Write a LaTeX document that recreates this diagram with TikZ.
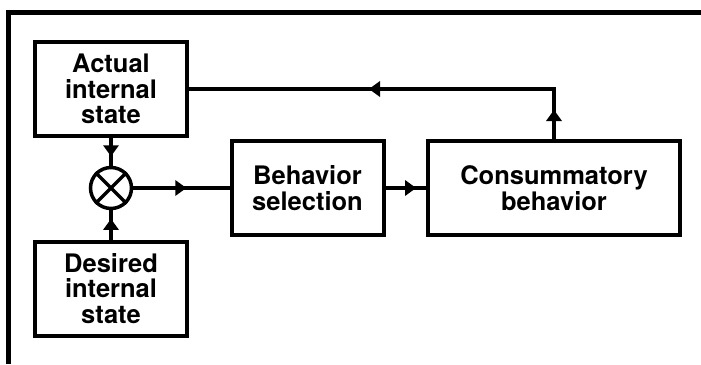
\documentclass[tikz,border=0pt]{standalone}
\usepackage{fontspec}
\setmainfont{TeX Gyre Heros}
\usetikzlibrary{decorations.markings}

\newcommand{\headshape}{\fill (3pt,0pt) -- (-8pt,8pt) -- (-8pt,-8pt) -- cycle;}

\tikzset{
  blockbox/.style={draw, line width=4pt, minimum width=152pt, minimum height=94pt,
    align=center, inner sep=0pt, font=\bfseries\fontsize{25.5}{25.5}\selectfont},
  link/.style={line width=3.2pt},
  flowmark/.style={decoration={markings,
      mark=at position #1 with {\headshape}},
    postaction=decorate},
  twomarks/.style 2 args={decoration={markings,
      mark=at position #1 with {\headshape},
      mark=at position #2 with {\headshape}},
    postaction=decorate}
}

\begin{document}
\begin{tikzpicture}[x=1pt,y=1pt]
  \useasboundingbox (0,0) rectangle (701,-364);

  % open frame along the left and top
  \draw[line width=5pt] (8,-364) -- (8,-12) -- (701,-12);

  % blocks
  \node[blockbox] (actual)  at (111,-89)    {Actual\\internal\\state};
  \node[blockbox] (desired) at (111,-288.5) {Desired\\internal\\state};
  \node[blockbox] (select)  at (307.5,-188) {Behavior\\selection};
  \node[blockbox, minimum width=252pt] (consume) at (554,-188) {Consummatory\\behavior};

  % comparator
  \node[draw, circle, line width=3.5pt, minimum size=41pt, inner sep=0pt] (sum) at (111,-188) {};
  \draw[line width=3.5pt] (sum.north west) -- (sum.south east)
                          (sum.north east) -- (sum.south west);

  % signal flow
  \draw[link, flowmark=0.55] (actual.south) -- (sum.north);
  \draw[link, flowmark=0.6] (desired.north) -- (sum.south);
  \draw[link, flowmark=0.52] (sum.east) -- (select.west);
  \draw[link, flowmark=0.68] (select.east) -- (consume.west);
  \draw[link, twomarks={26pt}{232pt}] (consume.north) |- (actual.east);
\end{tikzpicture}
\end{document}
